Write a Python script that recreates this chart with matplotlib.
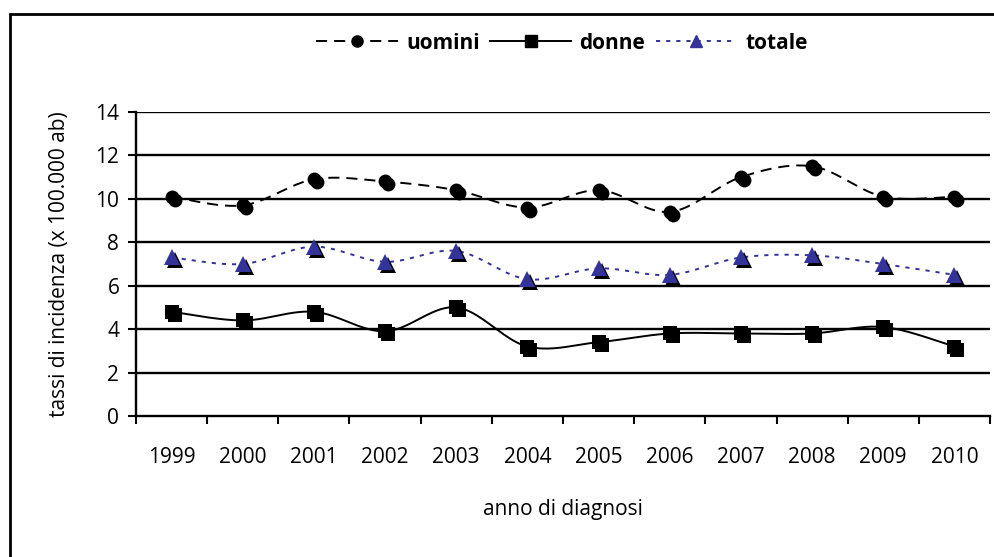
import numpy as np
import matplotlib
matplotlib.use('Agg')
import matplotlib.pyplot as plt
from matplotlib.lines import Line2D
from matplotlib.patches import Rectangle
from matplotlib.transforms import offset_copy

plt.rcParams['font.family'] = ['Open Sans', 'DejaVu Sans']
plt.rcParams['lines.scale_dashes'] = False

# DATA
anni = ['1999', '2000', '2001', '2002', '2003', '2004',
        '2005', '2006', '2007', '2008', '2009', '2010']
uomini = [10.1, 9.7, 10.9, 10.8, 10.4, 9.6, 10.4, 9.4, 11.0, 11.5, 10.1, 10.1]
donne = [4.8, 4.4, 4.8, 3.9, 5.0, 3.2, 3.4, 3.8, 3.8, 3.8, 4.1, 3.2]
totale = [7.3, 7.0, 7.8, 7.1, 7.6, 6.3, 6.8, 6.5, 7.3, 7.4, 7.0, 6.5]

BLUE = '#333399'
FS = 15
DASH = (0, (8.0, 5.0))
DOT = (0, (3.0, 4.3))


def smooth(xs, ys, n=25):
    # excel-like bezier smoothing
    pts = np.column_stack([xs, ys]).astype(float)
    out = []
    for i in range(len(pts) - 1):
        p0 = pts[i - 1] if i > 0 else pts[i]
        p1 = pts[i]
        p2 = pts[i + 1]
        p3 = pts[i + 2] if i + 2 < len(pts) else pts[i + 1]
        c1 = p1 + (p2 - p0) / 6.0
        c2 = p2 - (p3 - p1) / 6.0
        t = np.linspace(0, 1, n)[:, None]
        seg = (1 - t)**3 * p1 + 3 * (1 - t)**2 * t * c1 + 3 * (1 - t) * t**2 * c2 + t**3 * p2
        out.append(seg if i == 0 else seg[1:])
    return np.vstack(out)


fig = plt.figure(figsize=(9.95, 5.57), dpi=100)
ax = fig.add_axes([136 / 995, 1 - 416 / 557, 854 / 995, 304 / 557])

x = np.arange(len(anni))
shadow = offset_copy(ax.transData, fig=fig, x=3, y=-3, units='dots')

series = [
    (uomini, 'k', DASH, 'o', 'k', 10),
    (donne, 'k', '-', 's', 'k', 10),
    (totale, BLUE, DOT, '^', BLUE, 11),
]
for vals, col, ls, mk, mcol, ms in series:
    curve = smooth(x, vals)
    ax.plot(curve[:, 0], curve[:, 1], color=col, linestyle=ls, lw=1.4, zorder=3)
    ax.plot(x, vals, linestyle='none', marker=mk, markersize=ms, color='k',
            markeredgewidth=0, transform=shadow, zorder=4)
    ax.plot(x, vals, linestyle='none', marker=mk, markersize=ms, color=mcol,
            markeredgewidth=0, zorder=5)

ax.set_xlim(-0.5, 11.5)
ax.set_ylim(0, 14)
ax.set_yticks(np.arange(0, 15, 2))
ax.set_xticks(np.arange(-0.5, 12, 1))
ax.set_xticklabels([])
ax.set_xticks(x, minor=True)
ax.set_xticklabels(anni, minor=True)
ax.tick_params(axis='x', which='minor', length=0, pad=22, labelsize=FS)
ax.tick_params(axis='x', which='major', length=6, width=1.5, direction='out')
ax.tick_params(axis='y', length=6, width=1.5, direction='out', labelsize=FS, pad=6)

for v in range(2, 15, 2):
    ax.axhline(v, color='k', lw=1.7, zorder=1)

for s in ['top', 'right']:
    ax.spines[s].set_visible(False)
for s in ['left', 'bottom']:
    ax.spines[s].set_linewidth(1.7)

ax.set_ylabel('tassi di incidenza (x 100.000 ab)', fontsize=FS, labelpad=18)
ax.set_xlabel('anno di diagnosi', fontsize=FS, labelpad=23)

handles = [
    Line2D([], [], color='k', linestyle=DASH, lw=1.4, marker='o', markersize=8),
    Line2D([], [], color='k', linestyle='-', lw=1.4, marker='s', markersize=8),
    Line2D([], [], color=BLUE, linestyle=DOT, lw=1.4, marker='^', markersize=9),
]
fig.legend(handles, ['uomini', 'donne', 'totale'], loc='center',
           bbox_to_anchor=(562 / 995, 1 - 43 / 557), ncol=3, frameon=False,
           prop={'weight': 'bold', 'size': FS}, handlelength=3.9,
           handletextpad=0.4, columnspacing=0.5)

fig.patches.append(Rectangle((10 / 995, -0.2), 1.2, 1.2 - 14 / 557,
                             transform=fig.transFigure, fill=False,
                             edgecolor='k', lw=2))

fig.savefig('out.png', dpi=100)
